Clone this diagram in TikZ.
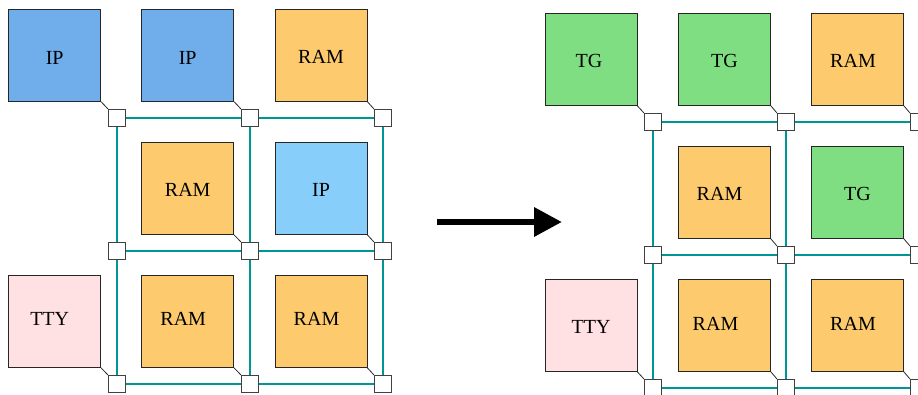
\documentclass[tikz,border=0pt]{standalone}
\usepackage{fontspec}
\setmainfont{Liberation Serif}
\usetikzlibrary{arrows.meta}
\definecolor{ipblue}{RGB}{111,174,234}
\definecolor{iplight}{RGB}{135,206,250}
\definecolor{ramc}{RGB}{253,203,110}
\definecolor{tgc}{RGB}{127,222,130}
\definecolor{ttyc}{RGB}{255,224,227}
\definecolor{linkc}{RGB}{0,150,150}
\begin{document}
\begin{tikzpicture}[x=1pt,y=-1pt,
  blk/.style={draw=black!85, line width=0.9pt, minimum size=92pt, inner sep=0pt},
  lbl/.style={font=\fontsize{20}{24}\selectfont, inner sep=0pt},
  rtr/.style={draw=black!75, fill=white, line width=1.2pt, minimum size=17pt, inner sep=0pt},
  link/.style={draw=linkc, line width=1.4pt},
  tap/.style={draw=black!85, line width=0.8pt},
  bigarrow/.style={line width=6.5pt, -{Triangle[length=28pt,width=28pt]}}]
\useasboundingbox (0,0) rectangle (918,394);
\clip (0,0) rectangle (918,394);
% ---------- left mesh: blocks ----------
\node[blk,fill=ipblue, label={[lbl,yshift=-3pt]center:IP}]  (a11) at (54.7,55.3) {};
\node[blk,fill=ipblue, label={[lbl,yshift=-3pt]center:IP}]  (a12) at (187.7,55.3) {};
\node[blk,fill=ramc,   label={[lbl,yshift=-1.5pt]center:RAM}] (a13) at (321,55.3) {};
\node[blk,fill=ramc,   label={[lbl,yshift=-1.5pt]center:RAM}] (a22) at (187.7,188.5) {};
\node[blk,fill=iplight,label={[lbl,yshift=-1.5pt]center:IP}]  (a23) at (321,188.5) {};
\node[blk,fill=ttyc,   label={[lbl,xshift=-5pt,yshift=2.5pt]center:TTY}] (a31) at (54.7,321.5) {};
\node[blk,fill=ramc,   label={[lbl,xshift=-4.5pt,yshift=2.5pt]center:RAM}] (a32) at (187.7,321.5) {};
\node[blk,fill=ramc,   label={[lbl,xshift=-4.5pt,yshift=2.5pt]center:RAM}] (a33) at (321,321.5) {};
% ---------- left mesh: routers ----------
\node[rtr] (p11) at (117,118) {};
\node[rtr] (p12) at (250,118) {};
\node[rtr] (p13) at (383,118) {};
\node[rtr] (p21) at (117,251) {};
\node[rtr] (p22) at (250,251) {};
\node[rtr] (p23) at (383,251) {};
\node[rtr] (p31) at (117,384) {};
\node[rtr] (p32) at (250,384) {};
\node[rtr] (p33) at (383,384) {};
% links
\draw[link] (p11) -- (p12); \draw[link] (p12) -- (p13);
\draw[link] (p21) -- (p22); \draw[link] (p22) -- (p23);
\draw[link] (p31) -- (p32); \draw[link] (p32) -- (p33);
\draw[link] (p11) -- (p21); \draw[link] (p21) -- (p31);
\draw[link] (p12) -- (p22); \draw[link] (p22) -- (p32);
\draw[link] (p13) -- (p23); \draw[link] (p23) -- (p33);
% taps
\draw[tap] (a11.south east) -- (p11.north west);
\draw[tap] (a12.south east) -- (p12.north west);
\draw[tap] (a13.south east) -- (p13.north west);
\draw[tap] (a22.south east) -- (p22.north west);
\draw[tap] (a23.south east) -- (p23.north west);
\draw[tap] (a31.south east) -- (p31.north west);
\draw[tap] (a32.south east) -- (p32.north west);
\draw[tap] (a33.south east) -- (p33.north west);
% ---------- arrow ----------
\coordinate (as) at (437,222);
\coordinate (ae) at (562,222);
\draw[bigarrow] (as) -- (ae);
% ---------- right mesh: blocks ----------
\node[blk,fill=tgc,  label={[lbl,xshift=-2pt,yshift=-1.5pt]center:TG}]  (b11) at (591,59.5) {};
\node[blk,fill=tgc,  label={[lbl,yshift=-1.5pt]center:TG}]  (b12) at (724.5,59.5) {};
\node[blk,fill=ramc, label={[lbl,xshift=-4.5pt,yshift=-1.5pt]center:RAM}] (b13) at (857.5,59.5) {};
\node[blk,fill=ramc, label={[lbl,xshift=-5pt,yshift=-1.5pt]center:RAM}] (b22) at (724.5,192.5) {};
\node[blk,fill=tgc,  label={[lbl,yshift=-1.5pt]center:TG}]  (b23) at (857.5,192.5) {};
\node[blk,fill=ttyc, label={[lbl,yshift=-1.5pt]center:TTY}] (b31) at (591,325.5) {};
\node[blk,fill=ramc, label={[lbl,xshift=-9pt,yshift=2pt]center:RAM}] (b32) at (724.5,325.5) {};
\node[blk,fill=ramc, label={[lbl,xshift=-4.5pt,yshift=2pt]center:RAM}] (b33) at (857.5,325.5) {};
% ---------- right mesh: routers ----------
\node[rtr] (q11) at (653,122) {};
\node[rtr] (q12) at (786,122) {};
\node[rtr] (q13) at (919,122) {};
\node[rtr] (q21) at (653,255) {};
\node[rtr] (q22) at (786,255) {};
\node[rtr] (q23) at (919,255) {};
\node[rtr] (q31) at (653,388) {};
\node[rtr] (q32) at (786,388) {};
\node[rtr] (q33) at (919,388) {};
\draw[link] (q11) -- (q12); \draw[link] (q12) -- (q13);
\draw[link] (q21) -- (q22); \draw[link] (q22) -- (q23);
\draw[link] (q31) -- (q32); \draw[link] (q32) -- (q33);
\draw[link] (q11) -- (q21); \draw[link] (q21) -- (q31);
\draw[link] (q12) -- (q22); \draw[link] (q22) -- (q32);
\draw[link] (q13) -- (q23); \draw[link] (q23) -- (q33);
\draw[tap] (b11.south east) -- (q11.north west);
\draw[tap] (b12.south east) -- (q12.north west);
\draw[tap] (b13.south east) -- (q13.north west);
\draw[tap] (b22.south east) -- (q22.north west);
\draw[tap] (b23.south east) -- (q23.north west);
\draw[tap] (b31.south east) -- (q31.north west);
\draw[tap] (b32.south east) -- (q32.north west);
\draw[tap] (b33.south east) -- (q33.north west);
\end{tikzpicture}
\end{document}
